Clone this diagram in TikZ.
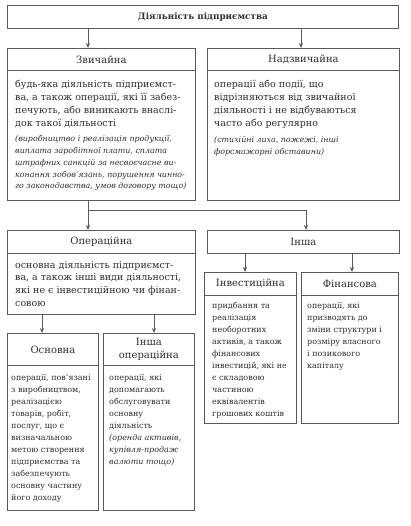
\documentclass[tikz,border=0pt]{standalone}
\usepackage{fontspec}
\setmainfont{DejaVu Serif}
\usetikzlibrary{arrows.meta}
\definecolor{linec}{gray}{0.35}
\definecolor{txtc}{gray}{0.18}
\begin{document}
\begin{tikzpicture}[x=1pt,y=-1pt,
  box/.style={draw=linec, line width=0.8pt, rectangle, inner sep=0pt, anchor=north west, text=txtc},
  ttl/.style={box, font=\fontsize{10}{12.5}\selectfont, align=center},
  bodytxt/.style={text=txtc, align=left, anchor=base west, inner sep=0pt, font=\fontsize{9.5}{12.8}\selectfont},
  itxt/.style={bodytxt, font=\fontsize{7.9}{11.7}\selectfont\itshape},
  smalltxt/.style={bodytxt, font=\fontsize{8}{12}\selectfont},
  smallitxt/.style={bodytxt, font=\fontsize{8}{12}\selectfont\itshape},
  arr/.style={draw=linec, line width=0.8pt, -{Stealth[length=5pt,width=4pt]}}
]
\useasboundingbox[fill=white] (0,0) rectangle (411,526);

% boxes
\node[box, minimum width=391, minimum height=23, font=\fontsize{8.8}{10}\selectfont\bfseries] (top) at (7,5) {Діяльність підприємства};

\node[ttl, minimum width=188, minimum height=22] (zvT) at (7,48) {Звичайна};
\node[box, minimum width=188, minimum height=130] (zvB) at (7,70) {};
\node[ttl, minimum width=192, minimum height=22] (ndT) at (207,48) {Надзвичайна};
\node[box, minimum width=192, minimum height=130] (ndB) at (207,70) {};

\node[ttl, minimum width=188, minimum height=23] (opT) at (7,230) {Операційна};
\node[box, minimum width=188, minimum height=61] (opB) at (7,253) {};
\node[ttl, minimum width=192, minimum height=23] (inT) at (207,230) {Інша};

\node[ttl, minimum width=91, minimum height=32] (osT) at (7,333) {Основна};
\node[box, minimum width=91, minimum height=145] (osB) at (7,365) {};
\node[ttl, minimum width=91, minimum height=32] (ioT) at (103,333) {Інша\\операційна};
\node[box, minimum width=91, minimum height=145] (ioB) at (103,365) {};

\node[ttl, minimum width=92, minimum height=23] (ivT) at (204,272) {Інвестиційна};
\node[box, minimum width=92, minimum height=128] (ivB) at (204,295) {};
\node[ttl, minimum width=97, minimum height=23] (fnT) at (301,272) {Фінансова};
\node[box, minimum width=97, minimum height=128] (fnB) at (301,295) {};

% texts (anchored at the baseline of their last line)
\node[bodytxt] (zvText) at (15,126.4) {будь-яка діяльність підприємст-\\ва, а також операції, які її забез-\\печують, або виникають внаслі-\\док такої діяльності};
\node[itxt] (zvItal) at (15,188.8) {(виробництво і реалізація продукції,\\виплата заробітної плати, сплата\\штрафних санкцій за несвоєчасне ви-\\конання зобов'язань, порушення чинно-\\го законодавства, умов договору тощо)};

\node[bodytxt] (ndText) at (214,126.4) {операції або події, що\\відрізняються від звичайної\\діяльності і не відбуваються\\часто або регулярно};
\node[itxt] (ndItal) at (214,154.7) {(стихійні лиха, пожежі, інші\\форсмажорні обставини)};

\node[bodytxt] (opText) at (15,306.4) {основна діяльність підприємст-\\ва, а також інші види діяльності,\\які не є інвестиційною чи фінан-\\совою};

\node[smalltxt] (ivText) at (212,416) {придбання та\\реалізація\\необоротних\\активів, а також\\фінансових\\інвестицій, які не\\є складовою\\частиною\\еквівалентів\\грошових коштів};
\node[smalltxt] (fnText) at (307,368) {операції, які\\призводять до\\зміни структури і\\розміру власного\\і позикового\\капіталу};

\node[smalltxt] (osText) at (11,500) {операції, пов'язані\\з виробництвом,\\реалізацією\\товарів, робіт,\\послуг, що є\\визначальною\\метою створення\\підприємства та\\забезпечують\\основну частину\\його доходу};
\node[smalltxt] (ioText) at (109,428) {операції, які\\допомагають\\обслуговувати\\основну\\діяльність};
\node[smallitxt] (ioItal) at (109,464) {(оренда активів,\\купівля-продаж\\валюти тощо)};

% connector positions
\coordinate (xa) at (88,0);
\coordinate (xb) at (301,0);
\coordinate (xc) at (306,0);
\coordinate (jn) at (88,210);
\coordinate (xd) at (42,0);
\coordinate (xe) at (154,0);
\coordinate (xf) at (245,0);
\coordinate (xg) at (352,0);

\draw[arr] (top.south -| xa) -- (zvT.north -| xa);
\draw[arr] (top.south -| xb) -- (ndT.north -| xb);
\draw[arr] (zvB.south -| xa) -- (opT.north -| xa);
\draw[arr] (jn) -| (inT.north -| xc);
\draw[arr] (opB.south -| xd) -- (osT.north -| xd);
\draw[arr] (opB.south -| xe) -- (ioT.north -| xe);
\draw[arr] (inT.south -| xf) -- (ivT.north -| xf);
\draw[arr] (inT.south -| xg) -- (fnT.north -| xg);
\end{tikzpicture}
\end{document}
